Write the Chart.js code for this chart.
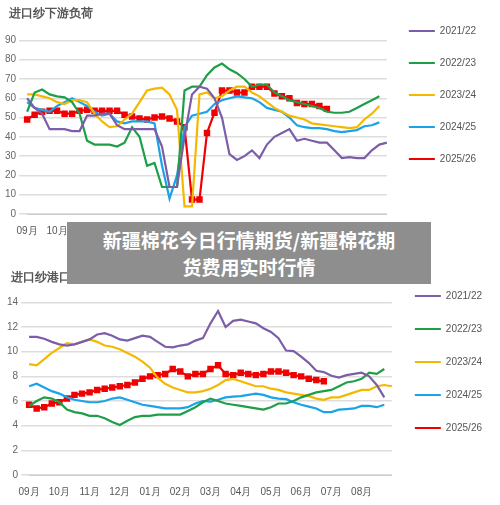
<!DOCTYPE html>
<html><head><meta charset="utf-8">
<script src="https://cdn.jsdelivr.net/npm/chart.js@4"></script>
<style>
body{margin:0;width:500px;height:505px;background:#fff;position:relative;overflow:hidden;font-family:"Noto Sans CJK SC",sans-serif}
#c1{position:absolute;left:0;top:0}
#c2{position:absolute;left:0;top:255px}
#ov{position:absolute;left:67px;top:222px;width:364px;height:62px;background:#8e8e8e;color:#fff;font-weight:bold;font-size:19px;line-height:27px;text-align:center;padding-top:4px;box-sizing:border-box}
</style></head><body>
<canvas id="c1" width="500" height="240"></canvas>
<canvas id="c2" width="500" height="250"></canvas>
<div id="ov">新疆棉花今日行情期货/新疆棉花期<br>货费用实时行情</div>
<script>
const months = ["09月","10月","11月","12月","01月","02月","03月","04月","05月","06月","07月","08月"];
const seasons = ["2021/22","2022/23","2023/24","2024/25","2025/26"];
const colors = ["#7b5ea7","#1f9e48","#f5b800","#1aa3e8","#f00000"];

// 进口纱下游负荷 (weekly)
const load2122 = [60,55,52,44,44,44,43,43,51,51,52,52,46,44,44,44,44,44,35,14,14,40,62,66,65,60,50,31,28,30,33,29,36,40,42,44,38,39,38,37,37,33,29,29.5,29,29,33,36,37];
const load2223 = [53,63,64.5,62,61,60.5,58,52,38,36,36,36,35,37,45,40,25,26.5,14,14,14,64,66,66,72,76,78,75,73,70,66,67,67,63,61,59,58,57,56,55,53,52.5,52.5,53,55,57,59,61];
const load2324 = [62,62,61,60,58,57,59,59,58,52,48,45,45.5,49,52,58,64,65,65.5,62,54,4,4,62,63,60,61,64,66,66,63,61,58,55,53,51,50,49,47,46.5,46,45.5,45,44.5,45,49,52,56];
const load2425 = [58,55,54,53,56,58,60,58,56,53,51,52,48,47,48,48,48,47,25,8,20,45,51,52,53,57,59,60,61,60.5,60,58,55,54,53,50,46,45,44.5,44.5,44,43,42.5,43,43.5,45.5,46,47.5];
const load2526 = [49,51.5,53,53.5,53.5,52,52,53.5,54,53.5,53.5,53.5,53.5,51.5,50.5,49.5,49,50,50.5,49.5,48,45,7.5,7.5,42,52.5,64,64,63,63,66,66,66,62.5,61,60,57.5,57,57,56,54.5];

// 进口纱港口库存（万吨） (weekly)
const stock2122 = [11.2,11.2,11.05,10.8,10.6,10.5,10.6,10.8,11,11.4,11.5,11.3,11,10.9,11.1,11.3,11.2,10.8,10.4,10.35,10.5,10.6,10.9,11.1,12.3,13.3,12,12.5,12.6,12.45,12.3,11.9,11.6,11.1,10.1,10.05,9.6,9.1,8.45,8.35,8.05,7.9,8.1,8.2,8.3,8,7.3,6.3];
const stock2223 = [5.6,6.0,6.3,6.2,5.9,5.3,5.1,5.0,4.8,4.8,4.6,4.3,4.05,4.4,4.7,4.8,4.8,4.9,4.9,4.9,4.9,5.2,5.5,5.9,6.2,6.0,5.8,5.7,5.6,5.5,5.4,5.3,5.5,5.8,5.8,6.0,6.3,6.5,6.7,6.8,6.9,7.2,7.5,7.6,7.8,8.3,8.2,8.6];
const stock2324 = [9.0,8.9,9.4,9.9,10.3,10.7,10.6,10.8,11.0,10.8,10.5,10.4,10.2,9.9,9.6,9.2,8.7,7.9,7.4,7.1,6.9,6.7,6.7,6.8,7.0,7.3,7.7,7.8,7.6,7.4,7.2,7.2,7.0,6.9,6.7,6.6,6.5,6.4,6.2,6.1,6.3,6.3,6.5,6.7,6.9,6.9,7.2,7.3,7.2];
const stock2425 = [7.2,7.4,7.1,6.8,6.6,6.3,6.1,6.0,5.9,5.9,6.0,6.2,6.3,6.1,5.9,5.7,5.6,5.5,5.4,5.4,5.4,5.5,5.8,6.0,5.95,6.1,6.3,6.35,6.4,6.5,6.6,6.5,6.3,6.2,6.15,5.9,5.7,5.55,5.4,5.1,5.1,5.3,5.35,5.4,5.6,5.6,5.5,5.7];
const stock2526 = [5.7,5.4,5.5,5.8,5.9,6.2,6.5,6.6,6.7,6.9,7.0,7.1,7.2,7.3,7.5,7.8,8.0,8.1,8.2,8.6,8.4,8.0,8.2,8.2,8.6,8.9,8.2,8.1,8.3,8.2,8.1,8.2,8.4,8.4,8.3,8.1,8.0,7.8,7.7,7.6];

const weeks = Array.from({length: 49}, (_, i) => i);

function makeChart(id, title, series, yMax, yStep, legPad, pad) {
  new Chart(document.getElementById(id).getContext("2d"), {
    type: "line",
    data: {
      labels: weeks,
      datasets: series.map((d, i) => ({
        label: seasons[i], data: d, borderColor: colors[i], backgroundColor: colors[i],
        borderWidth: 2.2, tension: 0,
        pointRadius: i == 4 ? 3 : 0, pointStyle: "rect"
      }))
    },
    options: {
      responsive: false, animation: false,
      layout: { padding: pad },
      plugins: {
        title: { display: true, text: "  " + title, align: "start", color: "#555",
          font: { size: 12, weight: "bold" }, padding: { top: 2, bottom: legPad[1] } },
        legend: { position: "right", align: "start",
          labels: { usePointStyle: true, pointStyle: "line", pointStyleWidth: 26, boxHeight: 3,
            color: "#555", font: { size: 10 }, padding: legPad[0] } }
      },
      scales: {
        x: { grid: { display: false, drawTicks: true }, border: { color: "#ccc" },
          ticks: { autoSkip: false, maxRotation: 0, color: "#555", font: { size: 10 },
            callback: (v, i) => (i % 4 == 0 && i < 48) ? months[i / 4] : "" } },
        y: { min: 0, max: yMax, grid: { color: "#ddd", lineWidth: 1.5 }, border: { display: false },
          ticks: { stepSize: yStep, color: "#666", font: { size: 10 } } }
      }
    }
  });
}

makeChart("c1", "进口纱下游负荷", [load2122, load2223, load2324, load2425, load2526], 90, 10, [22, 20], { left: 2, right: 14, top: 4, bottom: 0 });
makeChart("c2", "进口纱港口库存（万吨）", [stock2122, stock2223, stock2324, stock2425, stock2526], 14, 2, [23, 18], { left: 4, right: 8, top: 13, bottom: 4 });
</script>
</body></html>
